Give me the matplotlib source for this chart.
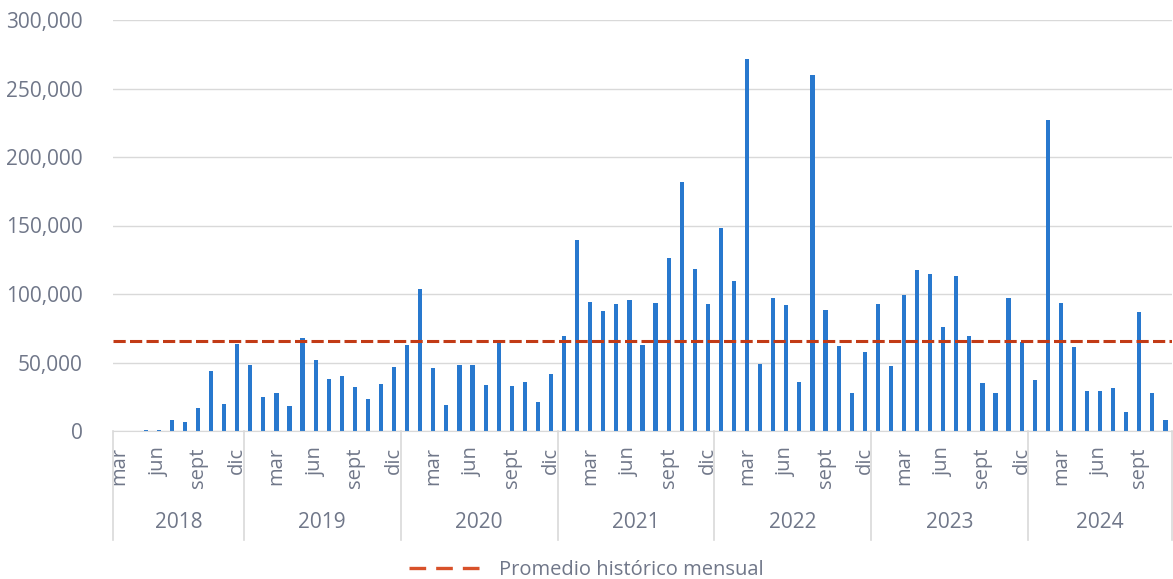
import matplotlib
matplotlib.use("Agg")
import matplotlib.pyplot as plt
import matplotlib.transforms as mtransforms
from matplotlib.lines import Line2D
import numpy as np

plt.rcParams["font.family"] = ["Open Sans", "DejaVu Sans"]

# monthly values, March 2018 to November 2024
years = ["2018", "2019", "2020", "2021", "2022", "2023", "2024"]
month_names = ["ene", "feb", "mar", "abr", "may", "jun",
               "jul", "ago", "sept", "oct", "nov", "dic"]
first_month = 2   # data start in March 2018
v2018 = [0, 0, 500, 800, 8000, 6500, 16500, 43500, 20000, 63500]
v2019 = [48000, 25000, 27500, 18500, 68000, 52000, 38000, 40000, 32000, 23500, 34000, 46500]
v2020 = [63000, 104000, 46000, 19000, 48000, 48500, 33500, 66000, 33000, 36000, 21000, 41500]
v2021 = [69500, 139500, 94000, 87500, 92500, 95500, 63000, 93500, 126000, 182000, 118000, 92500]
v2022 = [148000, 109500, 271500, 49000, 97000, 92000, 36000, 259500, 88000, 62000, 28000, 57500]
v2023 = [92500, 47500, 99000, 117500, 114500, 76000, 113000, 69000, 35000, 28000, 97000, 65000]
v2024 = [37000, 227000, 93500, 61500, 29000, 29500, 31500, 14000, 86500, 28000, 8000]
yearly = [v2018, v2019, v2020, v2021, v2022, v2023, v2024]

BAR = "#2878CE"
AVG = "#C23B16"
TXT = "#707789"
GRID = "#D9D9D9"

values = np.concatenate(yearly)
x = np.arange(len(values))
month_labels = []
m = first_month
for vals in yearly:
    for _ in vals:
        month_labels.append(month_names[m % 12])
        m += 1
avg = values.mean()

fig = plt.figure(figsize=(11.73, 5.79), dpi=100)
ax = fig.add_axes([113 / 1173, 1 - 431 / 579, 1059 / 1173, 411 / 579])

ax.bar(x, values, width=0.32, color=BAR, zorder=2)
ax.plot([-0.5, len(values) - 0.5], [avg, avg], color=AVG, lw=2.2,
        dashes=(4, 1.4), zorder=3)

ax.set_xlim(-0.5, len(values) - 0.5)
ax.set_ylim(0, 300000)
ax.set_yticks(np.arange(0, 300001, 50000))
ax.yaxis.set_major_formatter(matplotlib.ticker.FuncFormatter(lambda v, p: f"{v:,.0f}"))
ax.tick_params(axis="y", length=0, pad=22, labelsize=15, labelcolor=TXT)
ax.grid(axis="y", color=GRID, lw=1, zorder=0)
ax.set_xticks([])
for s in ["top", "right", "left"]:
    ax.spines[s].set_visible(False)
ax.spines["bottom"].set_color(GRID)

# month labels every third category
trans = mtransforms.blended_transform_factory(ax.transData, ax.transAxes)
for i in range(0, len(values), 3):
    ax.text(i, -16 / 411, month_labels[i], rotation=90, ha="center", va="top",
            fontsize=14.5, color=TXT, transform=trans)

# year groups with divider lines
start = 0
edges = [-0.5]
for yr, vals in zip(years, yearly):
    end = start + len(vals)
    ax.text((start + end - 1) / 2, -91 / 411, yr, ha="center", va="center",
            fontsize=15, color=TXT, transform=trans)
    edges.append(end - 0.5)
    start = end
for e in edges:
    ax.plot([e, e], [0, -109 / 411], color=GRID, lw=1.2, transform=trans,
            clip_on=False)

handle = Line2D([], [], color="#D8512A", lw=2.4, dashes=(5, 3))
fig.legend([handle], ["Promedio histórico mensual"], loc="center",
           bbox_to_anchor=(0.5, 1 - 570 / 579), frameon=False, fontsize=14.5,
           handlelength=3.6, handletextpad=0.85, labelcolor=TXT)

fig.savefig("out.png", dpi=100)
